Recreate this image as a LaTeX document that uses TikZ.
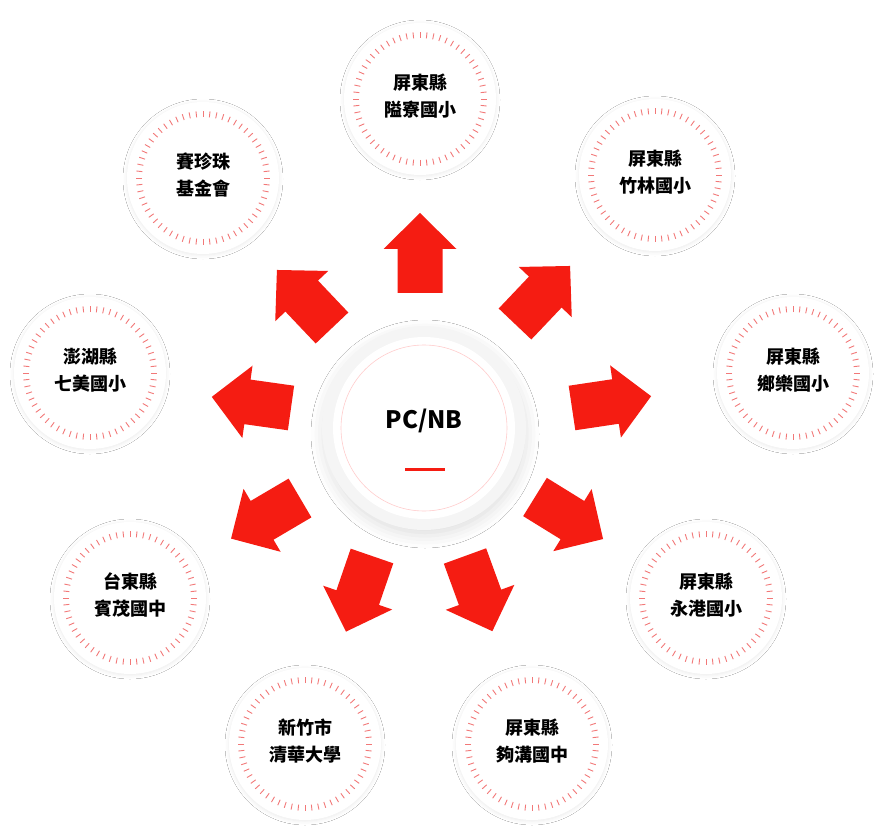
\documentclass[tikz,border=0pt]{standalone}
\usepackage{fontspec}
\newfontfamily\cjk{Noto Sans CJK TC}
\usetikzlibrary{shadows.blur}
\definecolor{arrowred}{RGB}{245,28,18}
\definecolor{tickred}{RGB}{242,120,120}
\definecolor{hubgray}{RGB}{245,245,245}
\tikzset{
  orgdisk/.style={circle, fill=white, minimum size=152pt, inner sep=0pt,
    blur shadow={shadow xshift=0pt, shadow yshift=-1pt, shadow blur radius=4pt, shadow opacity=9}},
  orglabel/.style={font=\cjk\bfseries\fontsize{18}{27}\selectfont, align=center, text=black, inner sep=0pt},
  tickline/.style={draw=tickred, line width=0.9pt},
  bigarrow/.style={fill=arrowred},
}
\newcommand\orgcirc[4]{%
  \node[orgdisk] (#1) at (#2,#3) {};
  \foreach \a in {0,6,...,354}
    \draw[tickline] ([shift={(\a:61)}]#1.center) -- ([shift={(\a:67)}]#1.center);
  \node[orglabel] (#1-t) at ([yshift=3pt]#1.center) {#4};
}
\newcommand\bigarr[3]{%
  \fill[bigarrow, shift={(#1,#2)}, rotate=#3]
    (0,-22.5) -- (44,-22.5) -- (44,-36.5) -- (80,0) -- (44,36.5) -- (44,22.5) -- (0,22.5) -- cycle;
}
\begin{document}
\begin{tikzpicture}[x=1pt,y=-1pt]
\useasboundingbox (0,0) rectangle (884,837);
\fill[white] (0,0) rectangle (884,837);

% hub
\node[circle, fill=hubgray, minimum size=204pt, inner sep=0pt,
  blur shadow={shadow xshift=1pt, shadow yshift=-6pt, shadow blur radius=12pt, shadow opacity=12}] (hub) at (424,428) {};
\node[circle, fill=white, minimum size=182pt, inner sep=0pt] (hubin) at (hub.center) {};
\node[circle, draw=red!20, line width=0.6pt, minimum size=166pt, inner sep=0pt] (hubring) at (hub.center) {};
\node[font=\cjk\bfseries\fontsize{24}{24}\selectfont, inner sep=0pt] (hubt) at (424,421) {PC/NB};
\node[fill=arrowred, minimum width=40pt, minimum height=3pt, inner sep=0pt] (hubbar) at (425,469) {};

% arrows
\bigarr{420}{293}{90}
\bigarr{515}{324}{46.5}
\bigarr{572}{408}{8.5}
\bigarr{535}{497}{-31.7}
\bigarr{465}{556}{-70}
\bigarr{372}{556}{-109}
\bigarr{300}{498}{-149.5}
\bigarr{291}{408}{172}
\bigarr{332}{328}{133.5}

% outer circles
\orgcirc{c1}{420}{99}{屏東縣\\隘寮國小}
\orgcirc{c2}{655}{175}{屏東縣\\竹林國小}
\orgcirc{c3}{793}{373}{屏東縣\\鄉樂國小}
\orgcirc{c4}{706}{598}{屏東縣\\永港國小}
\orgcirc{c5}{532}{744}{屏東縣\\夠溝國中}
\orgcirc{c6}{305}{744}{新竹市\\清華大學}
\orgcirc{c7}{130}{598}{台東縣\\賓茂國中}
\orgcirc{c8}{90}{373}{澎湖縣\\七美國小}
\orgcirc{c9}{203}{178}{賽珍珠\\基金會}
\end{tikzpicture}
\end{document}
